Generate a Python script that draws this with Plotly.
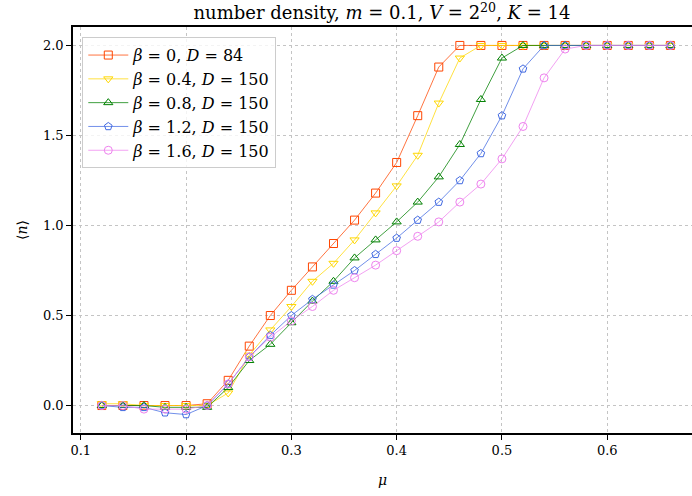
import plotly.graph_objects as go

mu = [0.12, 0.14, 0.16, 0.18, 0.20, 0.22, 0.24, 0.26, 0.28, 0.30, 0.32, 0.34, 0.36, 0.38,
      0.40, 0.42, 0.44, 0.46, 0.48, 0.50, 0.52, 0.54, 0.56, 0.58, 0.60, 0.62, 0.64, 0.66]

n_b00 = [0.00, 0.00, 0.00, 0.00, 0.00, 0.01, 0.14, 0.33, 0.50, 0.64, 0.77, 0.90, 1.03, 1.18,
         1.35, 1.61, 1.88, 2.00, 2.00, 2.00, 2.00, 2.00, 2.00, 2.00, 2.00, 2.00, 2.00, 2.00]
n_b04 = [0.01, 0.01, 0.00, 0.00, 0.00, 0.00, 0.07, 0.28, 0.42, 0.55, 0.69, 0.79, 0.92, 1.07,
         1.22, 1.39, 1.68, 1.93, 2.00, 2.00, 2.00, 2.00, 2.00, 2.00, 2.00, 2.00, 2.00, 2.00]
n_b08 = [0.00, 0.00, 0.00, -0.01, -0.01, -0.01, 0.10, 0.25, 0.34, 0.46, 0.58, 0.69, 0.82, 0.92,
         1.02, 1.13, 1.27, 1.45, 1.70, 1.93, 2.00, 2.00, 2.00, 2.00, 2.00, 2.00, 2.00, 2.00]
n_b12 = [0.00, -0.01, -0.01, -0.04, -0.05, 0.00, 0.12, 0.27, 0.39, 0.50, 0.59, 0.67, 0.75, 0.84,
         0.93, 1.03, 1.13, 1.25, 1.40, 1.61, 1.87, 2.00, 2.00, 2.00, 2.00, 2.00, 2.00, 2.00]
n_b16 = [0.00, 0.00, -0.02, -0.02, -0.02, 0.00, 0.12, 0.27, 0.38, 0.47, 0.55, 0.64, 0.71, 0.78,
         0.86, 0.94, 1.02, 1.13, 1.23, 1.37, 1.55, 1.82, 1.98, 2.00, 2.00, 2.00, 2.00, 2.00]

labels = ["<i>β</i> = 0, <i>D</i> = 84", "<i>β</i> = 0.4, <i>D</i> = 150",
          "<i>β</i> = 0.8, <i>D</i> = 150", "<i>β</i> = 1.2, <i>D</i> = 150",
          "<i>β</i> = 1.6, <i>D</i> = 150"]
series = [n_b00, n_b04, n_b08, n_b12, n_b16]
colors = [(255, 69, 0), (255, 215, 0), (0, 128, 0), (65, 105, 225), (238, 130, 238)]
symbols = ["square-open", "triangle-down-open", "triangle-up-open", "pentagon-open", "circle-open"]

xticks = [0.1, 0.2, 0.3, 0.4, 0.5, 0.6]
yticks = [0.0, 0.5, 1.0, 1.5, 2.0]

font = "DejaVu Serif, Liberation Serif, serif"

fig = go.Figure()
for lab, ys, c, s in zip(labels, series, colors, symbols):
    fig.add_trace(go.Scatter(
        x=mu, y=ys, mode="lines+markers", name=lab,
        line=dict(color="rgba(%d,%d,%d,0.75)" % c, width=1),
        marker=dict(symbol=s, size=8, color="rgb(%d,%d,%d)" % c,
                    line=dict(width=1, color="rgb(%d,%d,%d)" % c)),
    ))

fig.update_layout(
    width=692, height=496,
    margin=dict(l=73, r=0, t=27, b=63, autoexpand=False),
    paper_bgcolor="white", plot_bgcolor="white",
    font=dict(family=font, size=13, color="black"),
    title=dict(text="number density, <i>m</i> = 0.1, <i>V</i> = 2<sup>20</sup>, <i>K</i> = 14",
               x=0.552, xanchor="center", y=0.974, yanchor="middle",
               font=dict(family=font, size=18, color="black")),
    showlegend=True,
    legend=dict(x=0.015, y=0.975, xanchor="left", yanchor="top",
                bgcolor="rgba(255,255,255,0.8)", bordercolor="#cccccc", borderwidth=1,
                font=dict(family=font, size=16), itemwidth=40, tracegroupgap=0),
)
fig.update_xaxes(
    range=[0.0926, 0.6805], tickvals=xticks, tickformat=".1f", automargin=False,
    showline=True, linecolor="black", linewidth=1.5, mirror=True,
    ticks="outside", ticklen=5, tickcolor="black",
    showgrid=True, gridcolor="#c4c4c4", griddash="dot", gridwidth=1,
    zeroline=False, tickfont=dict(size=13),
    title=dict(text="<i>μ</i>", font=dict(size=14), standoff=18),
)
fig.update_yaxes(
    range=[-0.1525, 2.1025], tickvals=yticks, tickformat=".1f", automargin=False,
    showline=True, linecolor="black", linewidth=1.5, mirror=False,
    ticks="outside", ticklen=5, tickcolor="black",
    showgrid=True, gridcolor="#c4c4c4", griddash="dot", gridwidth=1,
    zeroline=False, tickfont=dict(size=13),
    title=dict(text="⟨<i>n</i>⟩", font=dict(size=14), standoff=12),
)

fig.write_html("out.html", config={"displayModeBar": False},
               post_script="document.body.style.margin='0';document.body.style.overflow='hidden';")
